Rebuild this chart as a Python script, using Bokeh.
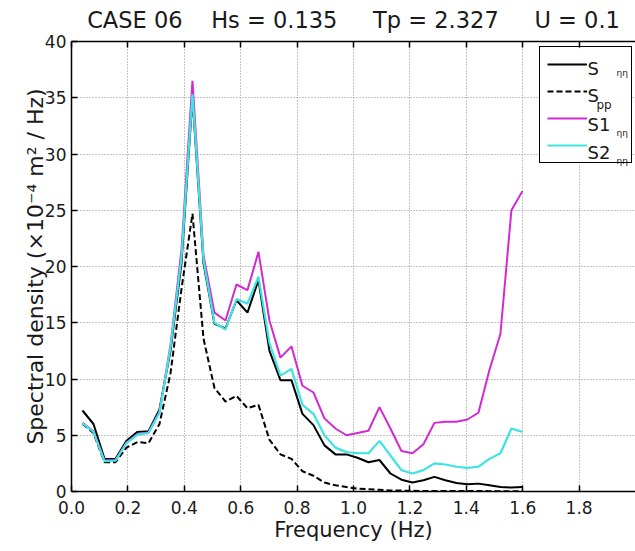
from bokeh.plotting import figure
from bokeh.models import Range1d, FixedTicker, LinearAxis, Legend, LegendItem, Label, BoxAnnotation
from bokeh.embed import file_html
from bokeh.resources import INLINE

# ---------------- data ----------------
freq = [0.039, 0.078, 0.117, 0.156, 0.195, 0.234, 0.273, 0.312, 0.351, 0.390,
        0.429, 0.468, 0.507, 0.546, 0.585, 0.624, 0.663, 0.702, 0.741, 0.780,
        0.819, 0.858, 0.897, 0.936, 0.975, 1.014, 1.053, 1.092, 1.131, 1.170,
        1.209, 1.248, 1.287, 1.326, 1.365, 1.404, 1.443, 1.482, 1.521, 1.560,
        1.599]

s_eta = [7.2, 6.0, 2.9, 2.9, 4.5, 5.3, 5.35, 7.3, 12.5, 20.3,
         35.0, 20.3, 14.9, 14.5, 17.0, 15.9, 18.8, 12.5, 9.9, 9.9,
         6.9, 5.9, 4.1, 3.3, 3.3, 3.0, 2.6, 2.8, 1.6, 1.05,
         0.8, 1.0, 1.3, 1.0, 0.75, 0.65, 0.7, 0.55, 0.4, 0.35,
         0.4]

s_pp = [6.0, 5.2, 2.6, 2.6, 3.9, 4.4, 4.3, 6.0, 10.5, 18.0,
        24.7, 13.6, 9.2, 8.0, 8.5, 7.4, 7.7, 4.6, 3.3, 2.9,
        1.8, 1.4, 0.8, 0.55, 0.4, 0.25, 0.2, 0.15, 0.1, 0.08,
        0.06, 0.05, 0.05, 0.05, 0.04, 0.04, 0.04, 0.03, 0.03, 0.03,
        0.03]

s1_eta = [6.1, 5.35, 2.75, 2.8, 4.35, 5.1, 5.25, 7.1, 13.0, 21.5,
          36.5, 21.0, 15.9, 15.2, 18.4, 17.9, 21.3, 15.2, 11.9, 12.9,
          9.4, 8.8, 6.5, 5.6, 5.0, 5.2, 5.4, 7.5, 5.6, 3.6,
          3.4, 4.2, 6.1, 6.2, 6.2, 6.4, 7.0, 10.8, 14.0, 25.0,
          26.7]

s2_eta = [6.05, 5.3, 2.7, 2.75, 4.3, 5.05, 5.2, 7.0, 12.8, 20.8,
          35.3, 20.6, 15.0, 14.4, 17.1, 16.7, 19.1, 13.2, 10.3, 10.9,
          7.7, 6.9, 5.0, 3.9, 3.5, 3.4, 3.4, 4.5, 3.2, 1.9,
          1.6, 1.9, 2.5, 2.4, 2.2, 2.1, 2.2, 2.9, 3.4, 5.6,
          5.3]

x_ticks = [0.0, 0.2, 0.4, 0.6, 0.8, 1.0, 1.2, 1.4, 1.6, 1.8]
x_tick_labels = ["0.0", "0.2", "0.4", "0.6", "0.8", "1.0", "1.2", "1.4", "1.6", "1.8"]
y_ticks = [0, 5, 10, 15, 20, 25, 30, 35, 40]

NB = "\u00a0"
title_text = ("CASE 06" + NB * 4 + "Hs = 0.135" + NB * 5 + "Tp = 2.327" + NB * 5 + "U = 0.1")
x_label = "Frequency (Hz)"
y_label = "Spectral density (\u00d710\u207b\u2074 m\u00b2 / Hz)"

FONT = "DejaVu Sans"
TXT = "#1a1a1a"
MAGENTA = "#d22ad2"
CYAN = "#3ee4e4"

# ---------------- figure ----------------
p = figure(width=635, height=551, output_backend="svg", toolbar_location=None,
           x_range=Range1d(0, 2), y_range=Range1d(0, 40),
           min_border_left=71, min_border_right=0, min_border_top=40, min_border_bottom=60,
           background_fill_color="white", border_fill_color="white")

p.title.text = title_text
p.title.align = "center"
p.title.vertical_align = "top"
p.title.standoff = 13
p.title.text_font = FONT
p.title.text_font_size = "22.5px"
p.title.text_font_style = "normal"
p.title.text_color = TXT

p.outline_line_color = None

for ax in (p.xaxis, p.yaxis):
    ax.axis_line_width = 1.5
    ax.axis_line_color = "black"
    ax.major_tick_in = 6
    ax.major_tick_out = 0
    ax.major_tick_line_width = 1.5
    ax.minor_tick_line_color = None
    ax.major_label_text_font = FONT
    ax.major_label_text_font_size = "17px"
    ax.major_label_text_color = TXT
    ax.axis_label_text_font = FONT
    ax.axis_label_text_font_style = "normal"
    ax.axis_label_text_color = TXT

p.xaxis.ticker = FixedTicker(ticks=x_ticks)
p.xaxis.major_label_overrides = {t: s for t, s in zip(x_ticks, x_tick_labels)}
p.xaxis.major_label_standoff = 9
p.xaxis.axis_label = x_label
p.xaxis.axis_label_text_font_size = "21px"
p.xaxis.axis_label_standoff = 1

p.yaxis.ticker = FixedTicker(ticks=y_ticks)
p.yaxis.major_label_standoff = 5
p.yaxis.axis_label = y_label
p.yaxis.axis_label_text_font_size = "22px"
p.yaxis.axis_label_standoff = -6

top = LinearAxis(ticker=FixedTicker(ticks=x_ticks), major_tick_in=6, major_tick_out=0,
                 major_tick_line_width=1.5, minor_tick_line_color=None,
                 major_label_text_color=None, major_label_text_font_size="1px",
                 major_label_standoff=0,
                 axis_line_color="black", axis_line_width=1.5)
p.add_layout(top, "above")

for g in (p.xgrid, p.ygrid):
    g.grid_line_color = "#8c8c8c"
    g.grid_line_dash = "1 2"
    g.grid_line_width = 1
p.xgrid.ticker = FixedTicker(ticks=x_ticks)
p.ygrid.ticker = FixedTicker(ticks=y_ticks)

r1 = p.line(freq, s_eta, line_color="black", line_width=2)
r2 = p.line(freq, s_pp, line_color="black", line_width=2, line_dash="6 3")
r3 = p.line(freq, s1_eta, line_color=MAGENTA, line_width=2)
r4 = p.line(freq, s2_eta, line_color=CYAN, line_width=2.2)

# canvas pixel -> data helpers (for the hand-built legend text)
def X(px):
    return (px - 71) / 282.0

def Y(py):
    return (491 - py) / 11.275

# white panel behind the legend (drawn at glyph level so grid lines are hidden)
p.add_layout(BoxAnnotation(left=X(539), right=X(630), top=Y(48), bottom=Y(163),
                           fill_color="white", fill_alpha=1, line_color=None,
                           level="glyph"))

legend = Legend(items=[LegendItem(label=" ", renderers=[r]) for r in (r1, r2, r3, r4)],
                location=(468, 328), glyph_width=40, glyph_height=20, label_width=37,
                label_height=20, label_standoff=0, padding=7, spacing=7, margin=0,
                border_line_color="black", border_line_width=1, border_line_alpha=1,
                background_fill_alpha=0,
                label_text_color=None, label_text_font_size="10px")
p.add_layout(legend)

legend_texts = [
    ("S", 587, 67, "18px"), ("\u03b7\u03b7", 616, 72, "9px"),
    ("S", 587, 94.5, "18px"), ("pp", 596, 104, "12px"),
    ("S1", 587, 123, "18px"), ("\u03b7\u03b7", 616, 132, "9px"),
    ("S2", 587, 151.5, "18px"), ("\u03b7\u03b7", 616, 160, "9px"),
]
for t, px, py, fs in legend_texts:
    p.add_layout(Label(x=X(px), y=Y(py), text=t, text_font=FONT, text_font_size=fs,
                       text_color=TXT, text_baseline="alphabetic", text_align="left",
                       level="overlay"))

open("out.html", "w").write(file_html(p, INLINE))
